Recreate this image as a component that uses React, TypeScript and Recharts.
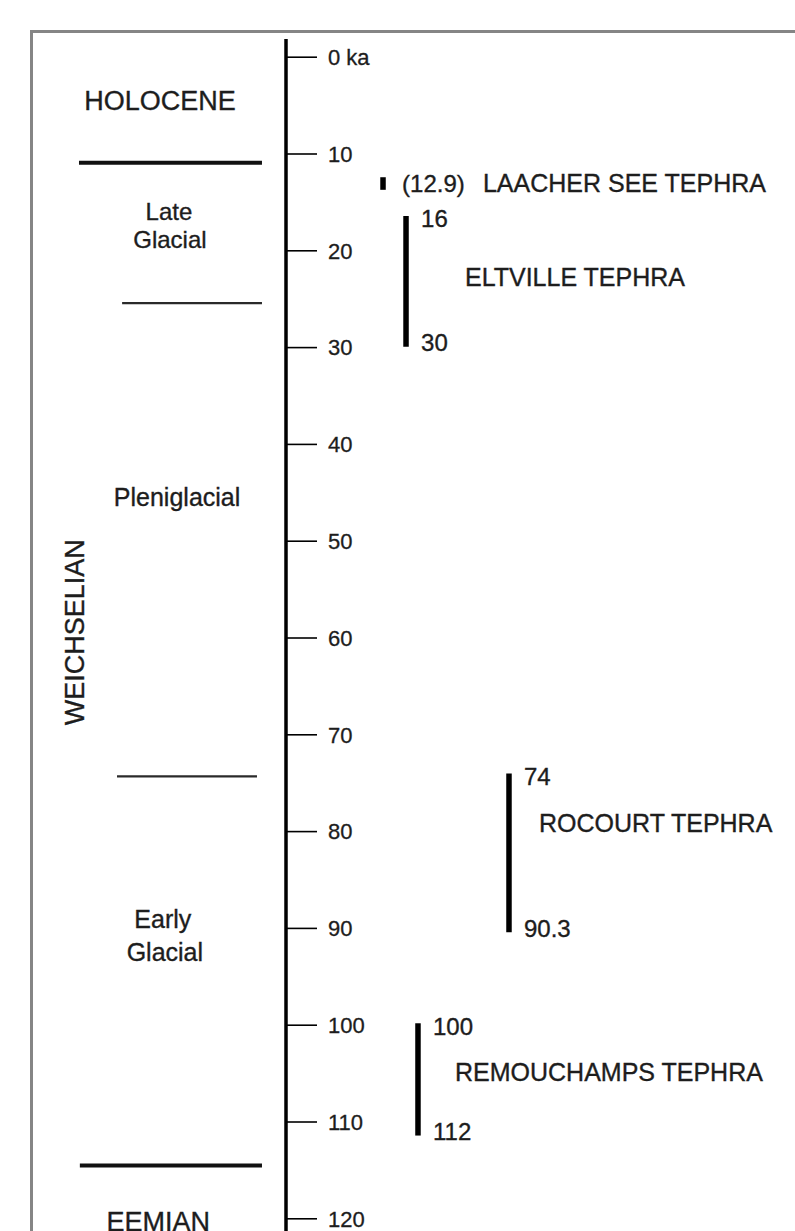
import { ComposedChart, Line, XAxis, YAxis, ReferenceLine, ReferenceDot } from 'recharts'

const W = 795
const H = 1231
const FONT = '"Liberation Sans", Arial, Helvetica, sans-serif'
const INK = '#1d1d1d'

// age axis, ka (0 at top)
const AGE_TICKS = [0, 10, 20, 30, 40, 50, 60, 70, 80, 90, 100, 110, 120]
const AGE_DOMAIN: [number, number] = [-1.88, 121.26]

// unit boundaries (ka); major ones are drawn heavier
const BOUNDARY_KA = [10.9, 25.4, 74.3, 114.5]
const BOUNDARY_MAJOR = [true, false, false, true]

// unit names and the age they are written at
const UNIT_TEXT = ['HOLOCENE', 'Late', 'Glacial', 'Pleniglacial', 'Early', 'Glacial', 'EEMIAN']
const UNIT_KA = [4.5, 15.95, 18.8, 45.4, 89.0, 92.5, 120.3]
const STAGE_TEXT = 'WEICHSELIAN'
const STAGE_KA = 59.4

// tephra layers
const TEPHRA_NAMES = ['LAACHER SEE TEPHRA', 'ELTVILLE TEPHRA', 'ROCOURT TEPHRA', 'REMOUCHAMPS TEPHRA']
const TEPHRA_TOP_KA = [12.4, 16.4, 74, 99.8]
const TEPHRA_BASE_KA = [13.7, 29.9, 90.4, 111.4]
const TEPHRA_TOP_TEXT = ['(12.9)', '16', '74', '100']
const TEPHRA_BASE_TEXT = ['', '30', '90.3', '112']
const TEPHRA_NAME_KA = [13.05, 22.7, 79.1, 104.8]

// horizontal layout, in x-axis units (0..100 right of the age axis, negative = left of it)
const COL = {
  tephra: [19.06, 23.58, 43.81, 25.93],
  tephraName: [38.7, 35.17, 49.7, 33.2],
  ageOffset: 2.95,
  singleAgeOffset: 3.74,
  boundaryFrom: [-40.67, -32.2, -33.2, -40.5],
  boundaryTo: [-4.72, -4.72, -5.7, -4.72],
  unit: [-24.75, -23, -22.8, -21.4, -24.2, -23.8, -25.1],
  unitSize: [27, 24, 24, 25, 25, 25, 27],
  stage: -41.65,
}

type Anchor = 'start' | 'middle' | 'end'

function textMark(key: string, x: number, y: number, text: string, size: number, anchor: Anchor = 'start', dy = 0, rotate = false) {
  return (
    <ReferenceDot
      key={key}
      x={x}
      y={y}
      r={0}
      ifOverflow="visible"
      fill="none"
      stroke="none"
      label={(p: any) => {
        const vb = p.viewBox ?? { x: 0, y: 0 }
        const tx = vb.x
        const ty = vb.y + dy
        return (
          <text
            x={tx}
            y={ty}
            dy={size * 0.355}
            textAnchor={anchor}
            fontSize={size}
            fontFamily={FONT}
            fill={INK}
            stroke={INK}
            strokeWidth={0.35}
            transform={rotate ? `rotate(-90 ${tx} ${ty})` : undefined}
          >
            {text}
          </text>
        )
      }}
    />
  )
}

export default function App() {
  return (
    <div style={{ position: 'absolute', left: 0, top: 0, width: W, height: H, background: '#fff', overflow: 'hidden' }}>
      <div style={{ position: 'absolute', left: 30, top: 30, right: -10, bottom: -10, borderTop: '3px solid #858585', borderLeft: '3px solid #858585' }} />
      <div style={{ position: 'absolute', left: 0, top: 0 }}>
        <ComposedChart width={W} height={H} margin={{ top: 39, right: 0, bottom: 0, left: 286 }}>
          <XAxis type="number" dataKey="col" domain={[0, 100]} allowDataOverflow hide />
          <YAxis
            type="number"
            dataKey="ka"
            domain={AGE_DOMAIN}
            allowDataOverflow
            reversed
            ticks={AGE_TICKS}
            interval={0}
            mirror
            orientation="left"
            axisLine={{ stroke: '#000', strokeWidth: 3.5 }}
            tickLine={{ stroke: '#000', strokeWidth: 1.6 }}
            tickSize={31}
            tickMargin={11}
            tick={{ fill: INK, stroke: INK, strokeWidth: 0.3, fontSize: 22, fontFamily: FONT }}
            tickFormatter={(v: number) => (v === 0 ? '0 ka' : String(v))}
          />

          {/* unit boundaries */}
          {BOUNDARY_KA.map((ka, i) => (
            <ReferenceLine
              key={`b${i}`}
              segment={[{ x: COL.boundaryFrom[i], y: ka }, { x: COL.boundaryTo[i], y: ka }]}
              ifOverflow="visible"
              stroke={BOUNDARY_MAJOR[i] ? '#111' : '#2a2a2a'}
              strokeWidth={BOUNDARY_MAJOR[i] ? 4 : 2.2}
            />
          ))}

          {/* unit names */}
          {UNIT_TEXT.map((t, i) => textMark(`u${i}`, COL.unit[i], UNIT_KA[i], t, COL.unitSize[i], 'middle'))}
          {textMark('stage', COL.stage, STAGE_KA, STAGE_TEXT, 27, 'middle', 0, true)}

          {/* tephra bars */}
          {TEPHRA_NAMES.map((name, i) => (
            <Line
              key={name}
              data={[
                { col: COL.tephra[i], ka: TEPHRA_TOP_KA[i] },
                { col: COL.tephra[i], ka: TEPHRA_BASE_KA[i] },
              ]}
              dataKey="ka"
              stroke="#000"
              strokeWidth={5.5}
              strokeLinecap="butt"
              dot={false}
              activeDot={false}
              isAnimationActive={false}
            />
          ))}

          {/* tephra ages and names */}
          {TEPHRA_NAMES.map((name, i) =>
            TEPHRA_BASE_TEXT[i]
              ? [
                  textMark(`ta${i}`, COL.tephra[i] + COL.ageOffset, TEPHRA_TOP_KA[i], TEPHRA_TOP_TEXT[i], 24, 'start', 3),
                  textMark(`tb${i}`, COL.tephra[i] + COL.ageOffset, TEPHRA_BASE_KA[i], TEPHRA_BASE_TEXT[i], 24, 'start', -4),
                ]
              : textMark(`ta${i}`, COL.tephra[i] + COL.singleAgeOffset, (TEPHRA_TOP_KA[i] + TEPHRA_BASE_KA[i]) / 2, TEPHRA_TOP_TEXT[i], 24, 'start'),
          )}
          {TEPHRA_NAMES.map((name, i) => textMark(`tn${i}`, COL.tephraName[i], TEPHRA_NAME_KA[i], name, 25, 'start'))}
        </ComposedChart>
      </div>
    </div>
  )
}
